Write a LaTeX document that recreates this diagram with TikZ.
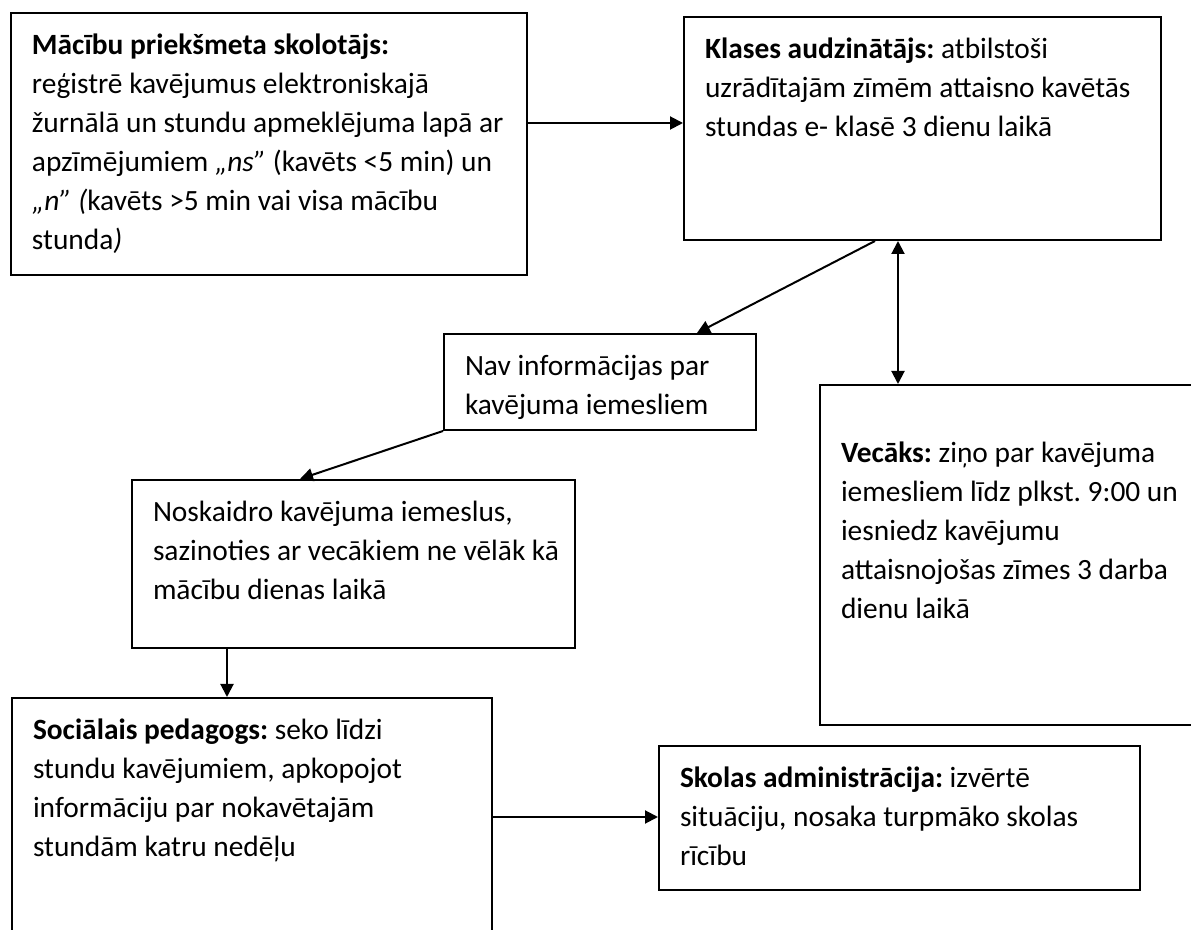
\documentclass[tikz,border=0pt]{standalone}
\usepackage{fontspec}
\setmainfont{Carlito}
\usetikzlibrary{arrows.meta,positioning,calc}

\newcommand{\boxfont}{\fontsize{14.7}{19.5}\selectfont\frenchspacing}
\newcommand{\boxtext}[4][0pt]{\parbox[t][#3][t]{#2}{\vspace*{#1}\begin{tabular}[t]{@{}l@{}}#4\end{tabular}}}

\begin{document}
\begin{tikzpicture}[x=0.5pt, y=-0.5pt,
  flowbox/.style={draw=black, line width=1pt, anchor=north west, inner xsep=10.5pt, inner ysep=7pt, font=\boxfont},
  arrow/.style={-{Triangle[length=6.5pt, width=6.5pt]}, line width=1pt},
  dblarrow/.style={{Triangle[length=6.5pt, width=6.5pt]}-{Triangle[length=6.5pt, width=6.5pt]}, line width=1pt},
]

\useasboundingbox (0,0) rectangle (1191,930);
\clip (0,0) rectangle (1191,930);

% Teacher
\node[flowbox] (teacher) at (10,12) {\boxtext{237pt}{117pt}{%
  \textbf{Mācību priekšmeta skolotājs:}\\
  reģistrē kavējumus elektroniskajā\\
  žurnālā un stundu apmeklējuma lapā ar\\
  apzīmējumiem \textit{„ns”} (kavēts <5 min) un\\
  \textit{„n” (}kavēts >5 min vai visa mācību\\
  stunda\textit{)}}};

% Class teacher
\node[flowbox] (classt) at (683,16) {\boxtext{217.5pt}{97.5pt}{%
  \textbf{Klases audzinātājs:} atbilstoši\\
  uzrādītajām zīmēm attaisno kavētās\\
  stundas e- klasē 3 dienu laikā}};

% No information
\node[flowbox] (noinfo) at (443,333) {\boxtext{135pt}{34pt}{%
  Nav informācijas par\\
  kavējuma iemesliem}};

% Parent
\node[flowbox] (parent) at (819,384) {\boxtext[18pt]{177pt}{156pt}{%
  \textbf{Vecāks:} ziņo par kavējuma\\
  iemesliem līdz plkst. 9:00 un\\
  iesniedz kavējumu\\
  attaisnojošas zīmes 3 darba\\
  dienu laikā}};

% Find out reasons
\node[flowbox] (findout) at (131,479) {\boxtext{200.5pt}{70pt}{%
  Noskaidro kavējuma iemeslus,\\
  sazinoties ar vecākiem ne vēlāk kā\\
  mācību dienas laikā}};

% Social pedagogue
\node[flowbox] (social) at (11,697) {\boxtext{219pt}{117.5pt}{%
  \textbf{Sociālais pedagogs:} seko līdzi\\
  stundu kavējumiem, apkopojot\\
  informāciju par nokavētajām\\
  stundām katru nedēļu}};

% Administration
\node[flowbox] (admin) at (658,745) {\boxtext{219.5pt}{58pt}{%
  \textbf{Skolas administrācija:} izvērtē\\
  situāciju, nosaka turpmāko skolas\\
  rīcību}};

% Connectors
\coordinate (tc) at ([yshift=-55.5pt]teacher.north east);
\draw[arrow] (tc) -- (tc -| classt.west);

\draw[arrow] ([xshift=96pt]classt.south west) -- ([xshift=127pt]noinfo.north west);

\coordinate (cp) at ([xshift=107.5pt]classt.south west);
\draw[dblarrow] (cp) -- (cp |- parent.north);

\draw[arrow] (noinfo.south west) -- ([xshift=84.5pt]findout.north west);

\coordinate (fs) at ([xshift=48pt]findout.south west);
\draw[arrow] (fs) -- (fs |- social.north);

\coordinate (sa) at ([yshift=-60pt]social.north east);
\draw[arrow] (sa) -- (sa -| admin.west);

\end{tikzpicture}
\end{document}
